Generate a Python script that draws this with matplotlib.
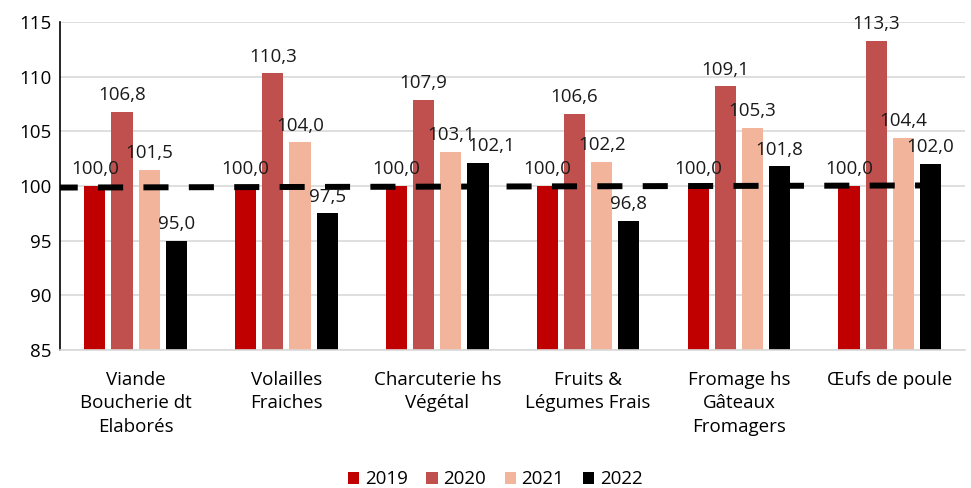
import numpy as np
from matplotlib import pyplot as plt

# data
categories = ['Viande\nBoucherie dt\nElaborés', 'Volailles\nFraiches', 'Charcuterie hs\nVégétal',
              'Fruits &\nLégumes Frais', 'Fromage hs\nGâteaux\nFromagers', 'Œufs de poule']
years = ['2019', '2020', '2021', '2022']
v2019 = [100.0, 100.0, 100.0, 100.0, 100.0, 100.0]
v2020 = [106.8, 110.3, 107.9, 106.6, 109.1, 113.3]
v2021 = [101.5, 104.0, 103.1, 102.2, 105.3, 104.4]
v2022 = [95.0, 97.5, 102.1, 96.8, 101.8, 102.0]
ref_line = [99.85, 100.05]

colors = ['#C00000', '#C0504D', '#F2B49B', '#000000']
FS = 13.5

plt.rcParams['font.family'] = ['Open Sans', 'DejaVu Sans']

fig = plt.figure(figsize=(9.71, 4.88), dpi=100)
ax = fig.add_axes([0.062, 0.283, 0.932, 0.672])

x = np.arange(len(categories))
width = 0.14
step = 0.18
series = [v2019, v2020, v2021, v2022]
# label nudged sideways in the original to avoid a clash
nudge = {(3, 2): 0.09}
for i, (vals, year, clr) in enumerate(zip(series, years, colors)):
    pos = x + (i - 1.5) * step
    ax.bar(pos, np.array(vals) - 85, width, bottom=85, color=clr, label=year, zorder=2)
    for j, (p, v) in enumerate(zip(pos, vals)):
        ax.text(p + nudge.get((i, j), 0), v + 0.7, '{:.1f}'.format(v).replace('.', ','),
                ha='center', va='bottom', fontsize=FS, color='#1a1a1a', zorder=4)

ax.plot([-0.55, 5.45], ref_line, color='black', linewidth=4.3, dashes=(4.2, 3.4), zorder=3)

ax.set_xlim(-0.5, 5.5)
ax.set_ylim(85, 115)
ax.set_yticks(range(85, 116, 5))
ax.tick_params(axis='y', labelsize=FS, length=0, pad=6)
ax.set_xticks(x)
ax.set_xticklabels(categories, fontsize=FS, linespacing=1.4)
ax.tick_params(axis='x', length=0, pad=15)
ax.grid(axis='y', color='#d9d9d9', linewidth=1.2, zorder=0)
ax.set_axisbelow(True)
for s in ['top', 'right']:
    ax.spines[s].set_visible(False)
ax.spines['left'].set_color('black')
ax.spines['left'].set_linewidth(1.2)
ax.spines['bottom'].set_color('#d9d9d9')
ax.spines['bottom'].set_linewidth(1.2)

fig.legend(loc='lower center', ncol=4, frameon=False, fontsize=FS, handlelength=0.6,
           handleheight=0.6, handletextpad=0.3, columnspacing=1.0, bbox_to_anchor=(0.51, -0.035))

fig.savefig('out.png', dpi=100)
